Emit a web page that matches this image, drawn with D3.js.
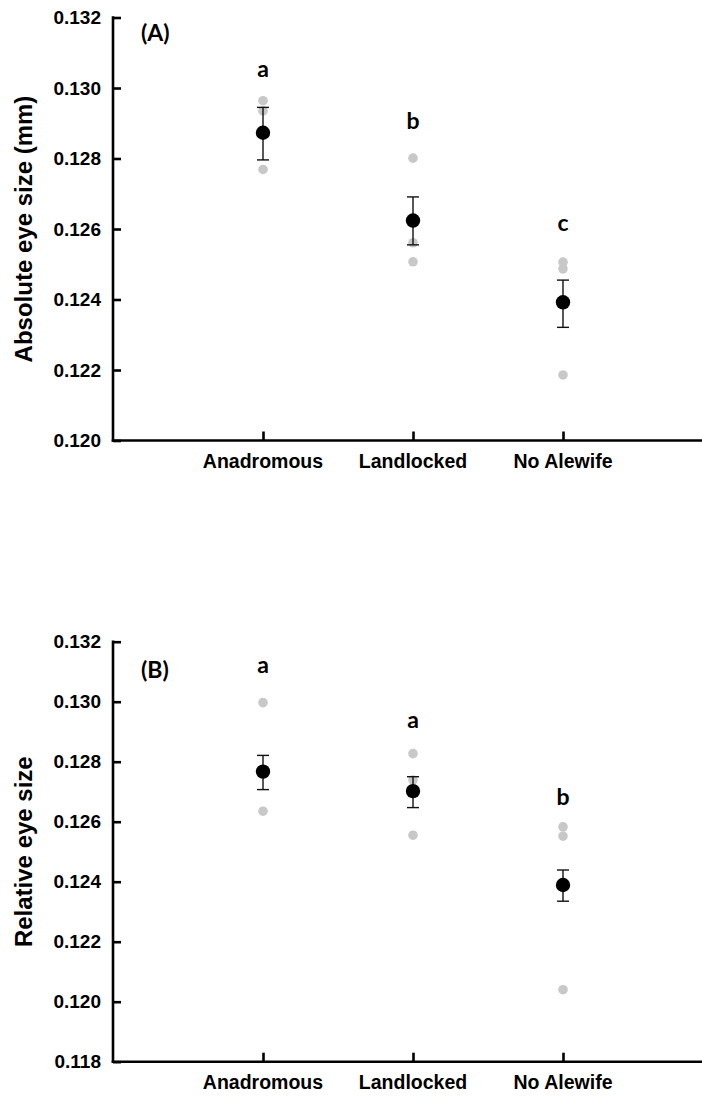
<!DOCTYPE html>
<html><head><meta charset="utf-8">
<script src="https://cdn.jsdelivr.net/npm/d3@7"></script>
<style>body{margin:0;background:#fff}svg{display:block}</style>
</head><body>
<svg id="c" width="702" height="1097"></svg>
<script>
const categories = ["Anadromous", "Landlocked", "No Alewife"];

// Panel A: absolute eye size (mm)
const absMean  = [0.12873, 0.12624, 0.12392];
const absUpper = [0.12945, 0.12691, 0.12455];
const absLower = [0.12796, 0.12555, 0.12321];
const absPoints = [[0.12964, 0.12935, 0.12769], [0.12801, 0.12561, 0.12507], [0.12506, 0.12487, 0.12186]];
const absLetters = ["a", "b", "c"];
const absLetterY = [0.13031, 0.12884, 0.12593];
const absTicks = [0.120, 0.122, 0.124, 0.126, 0.128, 0.130, 0.132];

// Panel B: relative eye size
const relMean  = [0.12767, 0.12702, 0.12389];
const relUpper = [0.12821, 0.12750, 0.12439];
const relLower = [0.12707, 0.12647, 0.12335];
const relPoints = [[0.12997, 0.12635], [0.12827, 0.12739, 0.12555], [0.12583, 0.12552, 0.12040]];
const relLetters = ["a", "a", "b"];
const relLetterY = [0.13096, 0.12912, 0.12656];
const relTicks = [0.118, 0.120, 0.122, 0.124, 0.126, 0.128, 0.130, 0.132];

const svg = d3.select("#c");
const x = d3.scaleLinear().domain([0, 4]).range([113, 713]);
const ARIAL = "Liberation Sans, Arial, sans-serif";

function panel(cfg) {
  const y = d3.scaleLinear().domain(cfg.domain).range(cfg.range);
  const g = svg.append("g");
  const x0 = x(0), yb = y(cfg.domain[0]);
  // y axis
  const yAx = g.append("g").attr("transform", `translate(${x0},0)`)
    .call(d3.axisRight(y).tickValues(cfg.ticks).tickSize(8).tickFormat(d3.format(".3f")));
  yAx.select(".domain").remove();
  yAx.selectAll(".tick line").attr("stroke", "#000").attr("stroke-width", 2.6);
  yAx.selectAll(".tick text").attr("x", -12).attr("text-anchor", "end")
    .attr("font-family", ARIAL).attr("font-weight", "bold")
    .attr("font-size", 19).attr("fill", "#000");
  g.append("line").attr("x1", x0).attr("x2", x0).attr("y1", y(cfg.domain[1]) - 1.3).attr("y2", yb + 1.3)
    .attr("stroke", "#000").attr("stroke-width", 2.6);
  // x axis
  const xAx = g.append("g").attr("transform", `translate(0,${yb})`)
    .call(d3.axisTop(x).tickValues([1, 2, 3]).tickSize(9).tickFormat(""));
  xAx.select(".domain").remove();
  xAx.selectAll(".tick line").attr("stroke", "#000").attr("stroke-width", 2.6);
  g.append("line").attr("x1", x0 - 1.3).attr("x2", 702).attr("y1", yb).attr("y2", yb)
    .attr("stroke", "#000").attr("stroke-width", 2.6);
  g.selectAll(".xl").data(categories).join("text")
    .attr("x", (d, i) => x(i + 1)).attr("y", yb + 27)
    .attr("text-anchor", "middle").attr("font-family", ARIAL)
    .attr("font-weight", "bold").attr("font-size", 19.5).text(d => d);
  // y title
  g.append("text").attr("transform", `translate(32,${(y(cfg.domain[1]) + yb) / 2}) rotate(-90)`)
    .attr("text-anchor", "middle").attr("font-family", ARIAL)
    .attr("font-weight", "bold").attr("font-size", 24).text(cfg.title);
  // panel label
  g.append("text").attr("x", 141).attr("y", cfg.labelY).attr("font-family", "Lato, sans-serif")
    .attr("font-weight", "bold").attr("font-size", 23).text(cfg.label);
  // raw points
  cfg.points.forEach((arr, i) => {
    g.selectAll(null).data(arr).join("circle")
      .attr("cx", x(i + 1)).attr("cy", d => y(d)).attr("r", 4.8).attr("fill", "#c8c8c8");
  });
  // error bars
  cfg.mean.forEach((m, i) => {
    const cx = x(i + 1);
    g.append("line").attr("x1", cx).attr("x2", cx).attr("y1", y(cfg.upper[i])).attr("y2", y(cfg.lower[i]))
      .attr("stroke", "#111").attr("stroke-width", 1.4);
    [cfg.upper[i], cfg.lower[i]].forEach(v => {
      g.append("line").attr("x1", cx - 6).attr("x2", cx + 6).attr("y1", y(v)).attr("y2", y(v))
        .attr("stroke", "#111").attr("stroke-width", 1.4);
    });
  });
  g.selectAll(".mean").data(cfg.mean).join("circle")
    .attr("cx", (d, i) => x(i + 1)).attr("cy", d => y(d)).attr("r", 7.2).attr("fill", "#000");
  // letters
  g.selectAll(".let").data(cfg.letters).join("text")
    .attr("x", (d, i) => x(i + 1)).attr("y", (d, i) => y(cfg.letterY[i]))
    .attr("text-anchor", "middle").attr("font-family", "Lato, sans-serif")
    .attr("font-weight", "bold").attr("font-size", 23).text(d => d);
}

panel({domain: [0.120, 0.132], range: [440.5, 17.5], ticks: absTicks, title: "Absolute eye size (mm)",
  label: "(A)", labelY: 41, points: absPoints, mean: absMean, upper: absUpper, lower: absLower,
  letters: absLetters, letterY: absLetterY});
panel({domain: [0.118, 0.132], range: [1061.7, 641.7], ticks: relTicks, title: "Relative eye size",
  label: "(B)", labelY: 678, points: relPoints, mean: relMean, upper: relUpper, lower: relLower,
  letters: relLetters, letterY: relLetterY});
</script>
</body></html>
